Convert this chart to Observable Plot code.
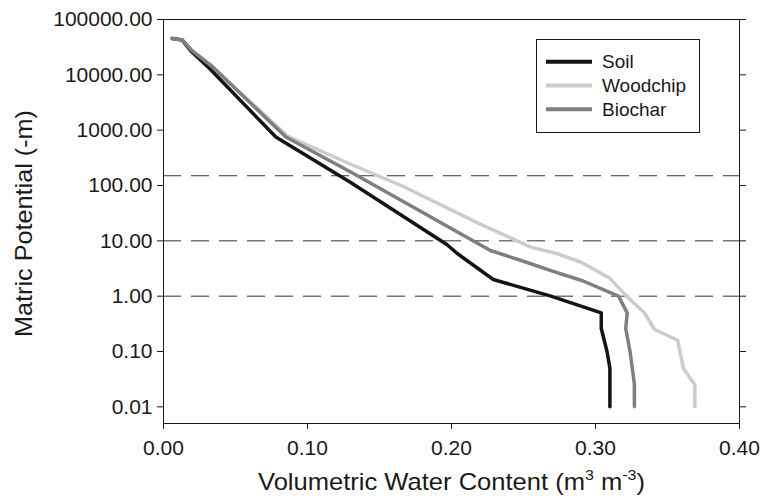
<!DOCTYPE html>
<html>
<head>
<meta charset="utf-8">
<script src="https://cdn.jsdelivr.net/npm/d3@7"></script>
<script src="https://cdn.jsdelivr.net/npm/@observablehq/plot@0.6"></script>
<style>
  html, body { margin: 0; padding: 0; background: #fff; }
  #chart { width: 771px; height: 496px; }
</style>
</head>
<body>
<div id="chart"></div>
<script>
// Series names and colours
const seriesNames = ["Soil", "Woodchip", "Biochar"];
const seriesColors = ["#141414", "#cccccc", "#7f7f7f"];
const drawOrder = ["Woodchip", "Soil", "Biochar"];

// Volumetric water content (m3 m-3) and matric potential (-m)
const soilTheta = [0.006, 0.013, 0.019, 0.032, 0.078, 0.130, 0.197, 0.204, 0.229, 0.269, 0.304, 0.304, 0.308, 0.310, 0.310];
const soilPsi   = [45500, 42500, 27000, 13000, 750, 113, 8.5, 5.9, 2.0, 1.0, 0.5, 0.26, 0.1, 0.05, 0.01];

const woodTheta = [0.006, 0.013, 0.020, 0.034, 0.086, 0.130, 0.165, 0.220, 0.255, 0.273, 0.290, 0.310, 0.322, 0.334, 0.341, 0.357, 0.361, 0.369, 0.369];
const woodPsi   = [45500, 42500, 27000, 14000, 780, 242, 100, 20, 7.7, 5.9, 4.1, 2.1, 0.97, 0.5, 0.25, 0.16, 0.05, 0.025, 0.01];

const bioTheta = [0.006, 0.013, 0.020, 0.034, 0.085, 0.130, 0.227, 0.252, 0.269, 0.291, 0.316, 0.322, 0.321, 0.324, 0.327, 0.327];
const bioPsi   = [45500, 42500, 27000, 14000, 750, 175, 6.7, 4.1, 2.9, 1.9, 1.0, 0.5, 0.26, 0.1, 0.026, 0.01];

// Reference lines (matric potential, -m)
const refLines = [150, 10, 1];

// Tick values
const yTicks = [0.01, 0.1, 1, 10, 100, 1000, 10000, 100000];
const xTicks = [0, 0.1, 0.2, 0.3, 0.4];

const seriesData = {
  Soil: [soilTheta, soilPsi],
  Woodchip: [woodTheta, woodPsi],
  Biochar: [bioTheta, bioPsi]
};
const rows = [];
for (const name of drawOrder) {
  const [t, p] = seriesData[name];
  t.forEach((v, i) => rows.push({series: name, theta: v, psi: p[i]}));
}

const FONT = "'Liberation Sans', Arial, Helvetica, sans-serif";

const plot = Plot.plot({
  width: 771,
  height: 496,
  marginLeft: 163,
  marginRight: 32,
  marginTop: 19,
  marginBottom: 73,
  style: {fontFamily: FONT, background: "#fff", color: "#1a1a1a"},
  x: {domain: [0, 0.4], label: null},
  y: {type: "log", domain: [0.005, 100000], label: null},
  color: {domain: seriesNames, range: seriesColors},
  marks: [
    Plot.ruleY(refLines, {stroke: "#333", strokeWidth: 1, strokeDasharray: "18,10"}),
    Plot.line(rows, {x: "theta", y: "psi", z: "series", stroke: "series", strokeWidth: 3.5, strokeLinejoin: "round", strokeLinecap: "round"}),
    Plot.frame({stroke: "#1a1a1a", strokeWidth: 1}),
    Plot.axisX({ticks: xTicks, tickSize: 6, tickPadding: 11, fontSize: 21, tickFormat: d => d.toFixed(2), label: null, stroke: "#1a1a1a"}),
    Plot.axisY({ticks: yTicks, tickSize: 6, tickPadding: 5, fontSize: 21, tickFormat: d => d.toFixed(2), label: null, stroke: "#1a1a1a"}),
    Plot.axisY({anchor: "right", ticks: yTicks, tickSize: 6, tickFormat: () => "", label: null, stroke: "#1a1a1a"})
  ]
});

document.getElementById("chart").appendChild(plot);

const svg = d3.select(plot);

// Axis titles
svg.append("text")
  .attr("transform", "translate(32,223.5) rotate(-90)")
  .attr("text-anchor", "middle")
  .attr("font-family", FONT)
  .attr("font-size", 24)
  .attr("fill", "#1a1a1a")
  .attr("textLength", 227)
  .attr("lengthAdjust", "spacingAndGlyphs")
  .text("Matric Potential (-m)");

const xt = svg.append("text")
  .attr("x", 451.5)
  .attr("y", 490)
  .attr("text-anchor", "middle")
  .attr("font-family", FONT)
  .attr("font-size", 24)
  .attr("fill", "#1a1a1a")
  .attr("textLength", 387)
  .attr("lengthAdjust", "spacingAndGlyphs");
xt.append("tspan").text("Volumetric Water Content (m");
xt.append("tspan").attr("dy", -10).attr("font-size", 15).text("3");
xt.append("tspan").attr("dy", 10).text(" m");
xt.append("tspan").attr("dy", -10).attr("font-size", 15).text("-3");
xt.append("tspan").attr("dy", 10).text(")");

// Legend
const lg = svg.append("g").attr("font-family", FONT).attr("font-size", 19).attr("text-anchor", "start");
lg.append("rect")
  .attr("x", 536.5).attr("y", 39.5).attr("width", 163).attr("height", 93)
  .attr("fill", "#fff").attr("stroke", "#1a1a1a").attr("stroke-width", 1);
seriesNames.forEach((name, i) => {
  const y = 61.7 + i * 23.8;
  lg.append("line")
    .attr("x1", 546).attr("x2", 592).attr("y1", y).attr("y2", y)
    .attr("stroke", seriesColors[i]).attr("stroke-width", 4);
  lg.append("text")
    .attr("x", 602).attr("y", y).attr("dy", "0.35em")
    .attr("text-anchor", "start")
    .attr("fill", "#1a1a1a")
    .text(name);
});
</script>
</body>
</html>
